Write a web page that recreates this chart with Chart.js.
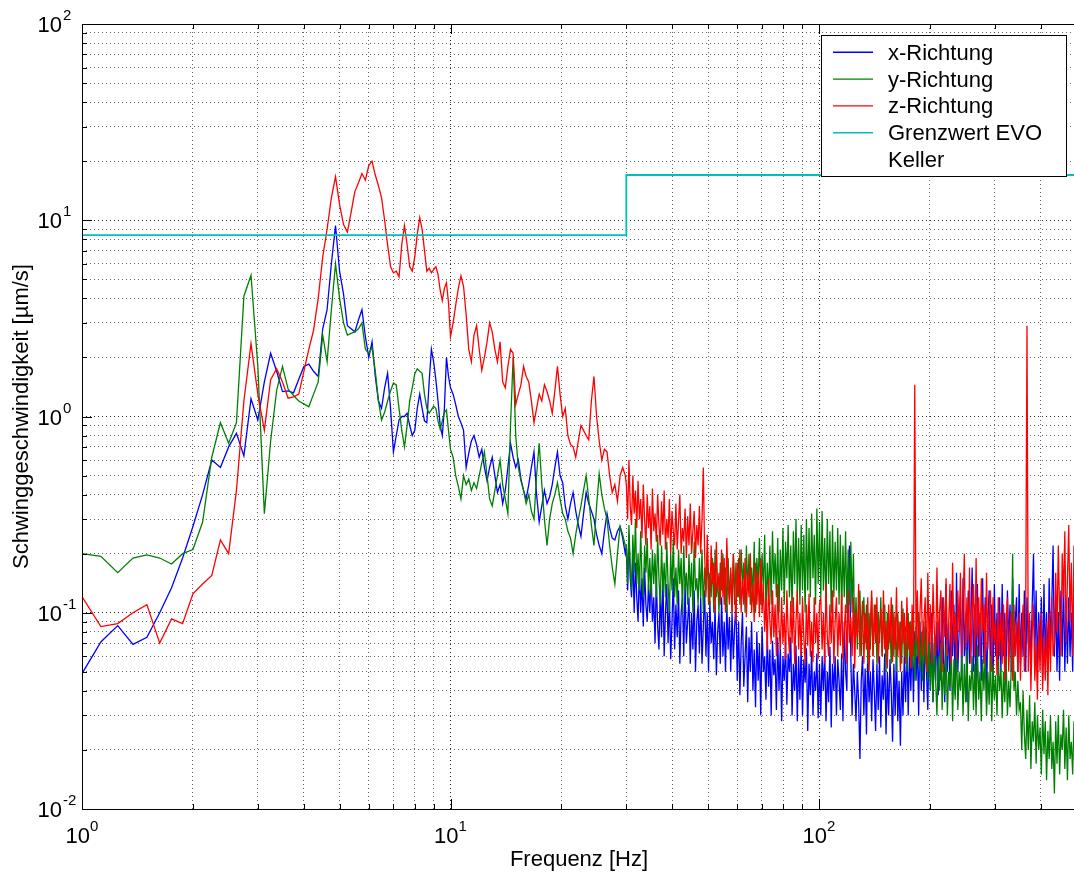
<!DOCTYPE html>
<html>
<head>
<meta charset="utf-8">
<script src="https://cdn.jsdelivr.net/npm/chart.js@4.4.1/dist/chart.umd.min.js"></script>
<style>html,body{margin:0;padding:0;background:#fff;overflow:hidden}canvas{display:block}</style>
</head>
<body>
<canvas id="c" width="1074" height="877"></canvas>
<script>
// ---------- DATA ----------
// frequency bins: 1..10 Hz at the 0.125 Hz FFT spacing, 10..30 Hz and 30..500 Hz on log-spaced display bins
const freqLow = Array.from({length: 73}, (_, k) => 1 + k * 0.125);
const freqMid = Array.from({length: 67}, (_, i) => 10 * Math.pow(50, (i + 1) / 240));
const freqDense = Array.from({length: 346}, (_, j) => 30 * Math.pow(500 / 30, j / 345));

// x-Richtung (blue)
const xLow = [0.049,0.071,0.086,0.069,0.075,0.10,0.134,0.19,0.275,0.40,
 0.60,0.55,0.70,0.82,0.63,1.23,0.96,1.5,2.1,1.7,
 1.34,1.35,1.32,1.55,1.8,1.85,1.7,1.6,2.8,3.5,
 6.0,9.4,5.5,4.2,2.9,2.8,2.7,3.1,3.5,2.55,
 2.0,2.4,1.6,1.2,1.1,1.4,1.66,1.1,0.66,0.8,
 0.96,1.0,1.0,1.04,0.9,0.8,0.85,1.1,1.3,1.1,
 0.95,0.93,1.5,2.2,1.9,1.54,1.2,0.9,0.8,1.1,
 2.0,1.6,1.4];
const xMid = [1.3,1.15,1.0,0.93,0.85,0.55,0.65,0.75,0.8,0.72,
 0.62,0.68,0.55,0.47,0.55,0.62,0.5,0.41,0.45,0.36,
 0.42,0.55,0.73,0.62,0.55,0.6,0.48,0.42,0.38,0.45,
 0.55,0.66,0.4,0.29,0.35,0.42,0.36,0.39,0.45,0.55,
 0.66,0.5,0.46,0.35,0.3,0.36,0.41,0.33,0.28,0.245,
 0.32,0.41,0.36,0.33,0.3,0.25,0.22,0.2,0.26,0.32,
 0.27,0.24,0.235,0.26,0.275,0.24,0.2];
const xDense = [0.22,0.13,0.25,0.15,0.12,0.2,0.1,0.18,0.12,0.09,0.17,
 0.1,0.15,0.085,0.17,0.11,0.09,0.14,0.1,0.16,0.09,
 0.12,0.07,0.15,0.085,0.065,0.13,0.075,0.16,0.06,0.1,0.14,0.07,0.12,0.058,0.09,0.15,
 0.065,0.11,0.075,0.13,0.055,0.1,0.12,0.06,0.14,0.07,0.09,0.12,0.055,0.1,0.065,0.13,
 0.05,0.09,0.11,0.062,0.12,0.055,0.085,0.13,0.06,0.1,0.05,0.115,0.07,0.09,0.058,0.11,
 0.048,0.08,0.1,0.055,0.12,0.06,0.09,0.05,0.11,0.065,0.095,0.05,0.1,0.058,0.085,0.11,
 0.045,0.09,0.038,0.07,0.1,0.042,0.06,0.085,0.035,0.075,0.05,0.09,0.04,0.065,0.033,0.08,
 0.045,0.07,0.03,0.085,0.05,0.06,0.036,0.078,0.042,0.065,0.03,0.072,0.048,0.058,0.032,0.075,
 0.04,0.068,0.028,0.06,0.045,0.07,0.034,0.062,0.05,0.075,0.03,0.055,0.04,0.068,0.028,0.06,
 0.036,0.07,0.03,0.058,0.044,0.066,0.025,0.055,0.038,0.064,0.03,0.05,0.04,0.062,0.029,0.055,
 0.03,0.06,0.04,0.065,0.028,0.05,0.035,0.067,0.026,0.055,0.04,0.06,0.03,0.058,0.045,0.032,
 0.062,0.028,0.09,0.05,0.04,0.16,0.22,0.06,0.03,0.055,0.04,0.028,0.05,0.035,0.018,0.045,
 0.06,0.03,0.052,0.024,0.065,0.035,0.05,0.028,0.058,0.04,0.025,0.055,0.032,0.06,0.026,0.048,
 0.036,0.062,0.024,0.05,0.03,0.058,0.04,0.022,0.055,0.03,0.065,0.028,0.045,0.021,0.05,0.03,
 0.06,0.035,0.07,0.03,0.065,0.04,0.075,
 0.035,0.08,0.045,0.07,0.03,0.09,0.04,0.075,0.035,0.085,0.05,0.032,0.08,0.04,0.1,0.035,0.07,0.045,0.09,0.038,
 0.1,0.045,0.12,0.06,0.035,0.14,0.05,0.09,0.04,0.13,0.06,0.11,0.038,0.16,0.05,0.08,
 0.12,0.045,0.15,0.06,0.1,0.035,0.13,0.055,0.09,0.17,0.05,0.11,0.04,0.14,0.06,0.1,
 0.045,0.15,0.055,0.12,0.035,0.09,0.13,0.05,0.11,0.04,0.14,0.06,0.1,0.045,
 0.12,0.05,0.14,0.06,0.1,0.045,0.13,0.07,0.11,0.05,0.15,0.06,0.09,0.12,0.05,0.14,
 0.055,0.1,0.06,0.13,0.05,0.12,0.07,0.09,0.055,0.11,0.2,0.06,0.13,0.05,0.1,0.065,
 0.12,0.045,0.14,0.06,0.1,0.05,0.15,0.07,0.11,0.22,0.06,0.12,0.05,0.1,0.045,0.13,
 0.06,0.15,0.05,0.11,0.055,0.12,0.06,0.1,0.05,0.14,0.06,0.12];

// y-Richtung (green)
const yLow = [0.20,0.194,0.16,0.19,0.197,0.19,0.177,0.20,0.21,0.29,
 0.62,0.93,0.73,0.93,4.1,5.25,1.8,0.32,0.75,1.36,
 1.8,1.38,1.28,1.2,1.16,1.12,1.3,1.5,2.6,1.9,
 3.5,6.0,4.0,3.0,2.6,2.65,2.7,2.8,3.0,2.2,
 2.1,2.25,1.7,1.2,0.96,1.05,1.2,1.35,1.48,1.45,
 1.1,0.85,0.7,0.9,1.2,1.4,1.65,1.75,1.7,1.66,
 1.3,1.1,1.04,1.08,1.13,1.1,0.95,0.86,0.95,1.05,
 1.08,0.85,0.68];
const yMid = [0.62,0.5,0.44,0.38,0.5,0.45,0.48,0.42,0.46,0.43,
 0.5,0.58,0.66,0.5,0.38,0.35,0.42,0.5,0.6,0.45,
 0.38,0.32,0.9,2.0,0.8,0.55,0.47,0.42,0.36,0.4,
 0.33,0.3,0.5,0.73,0.45,0.3,0.22,0.3,0.36,0.4,
 0.46,0.38,0.32,0.3,0.26,0.24,0.2,0.25,0.3,0.35,
 0.42,0.5,0.38,0.28,0.22,0.35,0.51,0.4,0.34,0.3,
 0.22,0.17,0.14,0.2,0.275,0.25,0.22];
const yDense = [0.22,0.14,0.28,0.17,0.13,0.25,0.16,0.3,0.14,0.2,0.13,0.26,0.15,0.12,0.22,0.16,0.24,0.13,0.19,0.12,0.21,
 0.14,0.2,0.12,0.25,0.15,0.11,0.22,0.13,0.18,0.12,0.23,0.14,0.1,0.2,0.13,0.24,
 0.12,0.17,0.11,0.21,0.14,0.19,0.1,0.22,0.13,0.16,0.11,0.2,0.12,0.18,0.1,0.23,
 0.13,0.15,0.11,0.19,0.12,0.21,0.1,0.17,0.13,0.2,0.11,0.16,0.12,0.19,0.1,0.21,
 0.12,0.15,0.1,0.18,0.13,0.2,0.11,0.17,0.1,0.19,0.12,0.16,0.1,0.2,0.11,0.18,
 0.12,0.19,0.11,0.21,0.14,0.18,0.1,0.22,0.13,0.2,0.11,0.17,0.12,0.23,0.1,0.19,
 0.14,0.24,0.11,0.2,0.13,0.25,0.1,0.18,0.12,0.22,0.11,0.26,0.14,0.2,0.12,0.24,
 0.1,0.21,0.13,0.27,0.11,0.23,0.15,0.28,0.12,0.22,0.1,0.26,0.14,0.3,0.12,0.24,
 0.11,0.28,0.13,0.25,0.1,0.3,
 0.13,0.27,0.12,0.32,0.15,0.25,0.11,0.34,0.14,0.29,0.12,0.33,0.13,0.24,0.11,0.3,
 0.14,0.26,0.1,0.28,0.12,0.23,0.13,0.27,0.11,0.25,0.1,0.22,0.12,0.26,0.1,0.21,
 0.11,0.23,0.1,0.2,
 0.07,0.12,0.065,0.1,0.13,0.06,0.09,0.12,0.07,0.11,0.055,0.1,0.065,0.12,0.06,0.09,
 0.11,0.055,0.1,0.07,0.12,0.06,0.085,0.11,0.05,0.1,0.065,0.09,0.055,0.11,0.06,0.095,
 0.05,0.1,0.065,0.09,0.055,0.105,0.06,0.085,0.05,0.1,0.06,0.09,0.052,0.095,0.045,0.085,
 0.06,0.1,0.05,0.08,0.045,0.09,0.055,0.08,0.045,0.075,
 0.04,0.065,0.035,0.075,0.045,0.03,0.06,0.04,0.07,0.032,0.055,0.038,0.068,0.03,0.05,0.042,
 0.065,0.028,0.058,0.036,0.07,0.032,0.05,0.04,0.06,0.03,0.055,0.035,0.065,0.028,0.048,0.04,
 0.06,0.032,0.055,0.03,0.068,0.036,0.05,0.028,0.058,0.04,0.062,0.03,0.05,0.034,0.06,0.028,
 0.055,0.036,0.048,0.03,0.058,0.04,0.052,0.029,0.05,0.035,0.06,0.03,0.045,0.033,0.055,0.2,
 0.04,0.05,0.03,0.045,0.032,
 0.035,0.02,0.04,0.024,0.018,0.032,0.02,0.038,0.016,0.028,0.022,0.035,0.017,0.03,0.02,0.026,
 0.015,0.032,0.019,0.028,0.014,0.025,0.018,0.03,0.016,0.022,0.012,0.028,0.017,0.03,0.015,0.024,
 0.02,0.032,0.016,0.026,0.014,0.03,0.018,0.022,0.015,0.028,0.017,0.03];

// z-Richtung (red)
const zLow = [0.121,0.085,0.088,0.10,0.11,0.07,0.093,0.088,0.125,0.14,
 0.155,0.235,0.2,0.42,1.2,2.35,1.3,0.85,1.54,1.75,
 1.5,1.24,1.26,1.3,1.7,2.2,2.75,4.0,6.5,9.0,
 13,16.7,12,9.5,8.7,11,14,15.5,17.3,16,
 19,20,17,15,13,10,7.5,5.8,5.4,5.5,
 5.15,7.5,9.4,7.5,5.8,5.5,6.5,8.5,10.3,9.0,
 7.0,5.5,5.7,5.4,5.6,5.8,5.3,4.4,3.9,4.5,
 4.8,3.8,2.55];
const zMid = [3.0,3.7,4.5,5.2,4.6,3.3,2.2,1.9,2.6,2.9,
 2.2,1.72,2.0,2.4,3.0,2.7,2.2,1.9,2.4,1.5,
 1.4,1.8,2.2,2.1,1.15,1.3,1.45,1.8,1.6,1.5,
 1.2,0.93,1.1,1.3,1.2,1.45,1.34,1.2,1.04,1.35,
 1.8,1.3,1.0,1.1,0.8,0.72,0.7,0.62,0.75,0.9,
 0.85,0.8,0.76,1.2,1.6,1.0,0.75,0.6,0.68,0.66,
 0.5,0.41,0.45,0.37,0.5,0.55,0.5];
const zDense = [0.45,0.3,0.6,0.35,0.28,0.5,0.32,0.42,0.27,0.47,0.3,
 0.38,0.24,0.45,0.3,0.22,0.4,0.27,0.35,0.21,0.43,0.26,0.32,
 0.23,0.4,0.28,0.22,0.37,0.25,0.42,0.21,0.3,0.24,0.38,0.2,
 0.33,0.26,0.22,0.36,0.21,0.29,0.4,0.2,0.27,0.23,0.34,0.19,
 0.31,0.22,0.36,0.2,0.26,0.33,0.19,0.28,0.22,0.35,0.2,0.3,
 0.55,
 0.2,0.12,0.25,0.15,0.11,0.22,0.14,0.18,0.1,0.23,0.13,0.16,0.11,0.21,0.12,
 0.19,0.1,0.24,0.14,0.11,0.17,0.1,0.2,0.13,0.09,0.18,0.12,0.21,0.1,0.15,
 0.11,0.19,0.095,0.16,0.12,0.2,0.1,0.14,0.09,0.18,0.11,0.16,0.095,0.19,0.1,
 0.14,0.08,0.12,0.065,0.15,0.09,0.07,0.13,0.075,0.11,0.06,0.14,0.085,0.065,0.12,
 0.07,0.1,0.058,0.13,0.08,0.062,0.115,0.07,0.12,0.055,0.09,0.13,0.065,0.1,0.06,
 0.12,0.075,0.055,0.11,0.068,0.125,0.06,0.09,0.056,0.12,0.07,0.1,0.058,0.11,
 0.12,0.065,0.1,0.055,0.14,0.075,0.06,0.11,0.07,0.13,0.055,0.09,0.12,0.06,0.1,0.068,
 0.125,0.058,0.08,0.11,0.055,0.13,0.07,0.095,0.06,0.12,0.052,0.1,0.075,0.14,0.06,0.085,
 0.115,0.055,0.1,0.065,0.12,0.05,0.09,0.13,0.06,0.11,0.07,0.12,0.055,0.08,0.105,0.06,
 0.13,0.065,0.09,0.052,0.11,0.07,0.12,0.056,0.1,0.065,0.135,0.06,0.09,0.05,0.115,0.07,
 0.1,0.055,0.12,0.065,0.09,0.052,0.11,0.06,
 1.45,
 0.07,0.13,0.055,0.1,0.15,0.06,0.09,0.12,0.05,0.16,0.07,0.11,0.055,0.14,0.08,0.06,
 0.17,0.065,0.1,0.13,0.05,0.12,0.075,0.15,0.06,0.09,0.14,0.055,0.18,0.07,0.1,0.058,
 0.13,0.08,0.16,0.06,0.11,0.2,0.065,0.12,0.07,0.17,0.055,0.1,0.14,0.06,0.19,0.075,
 0.12,0.06,0.15,0.08,0.11,0.055,0.16,0.065,0.1,0.13,0.05,0.12,0.07,0.09,0.048,0.12,
 0.06,0.1,0.055,0.11,0.045,0.09,0.12,0.05,0.08,0.1,0.045,0.11,0.06,0.09,0.05,0.1,
 0.045,0.08,0.11,0.05,0.09,
 2.9,
 0.05,0.1,0.04,0.08,0.11,0.045,0.07,0.036,0.09,0.05,0.1,0.04,0.075,0.045,0.09,0.038,0.1,0.05,0.12,0.06,
 0.07,0.16,0.08,0.22,0.1,0.06,0.2,0.12,0.26,0.07,0.15,0.28,0.09,0.18,0.06,0.22,0.1,0.24];

// Grenzwert EVO Keller (cyan step)
const limitFreq = [1, 30, 30, 500];
const limitVals = [8.4, 8.4, 17, 17];

// axes / ticks
const xDecades = [1, 10, 100];
const xExponents = ['0', '1', '2'];
const yDecades = [0.01, 0.1, 1, 10, 100];
const yExponents = ['-2', '-1', '0', '1', '2'];
const mantissas = [1, 2, 3, 4, 5, 6, 7, 8, 9];
const xMin = 1, xMax = 492, yMin = 0.01, yMax = 100;

const xTitle = 'Frequenz [Hz]';
const yTitle = 'Schwinggeschwindigkeit [\u00b5m/s]';
const legendLabels = [['x-Richtung'], ['y-Richtung'], ['z-Richtung'], ['Grenzwert EVO', 'Keller']];
const seriesColors = ['#0000ff', '#008000', '#ff0000', '#00bfbf'];

// ---------- BUILD ----------
const FONT = '"Liberation Sans", Arial, Helvetica, sans-serif';
function isDecade(v) { const l = Math.log10(v); return Math.abs(l - Math.round(l)) < 1e-9; }
function gridVals(decades, max) {
  const out = [];
  for (const d of decades) for (const m of mantissas) {
    const v = +(m * d).toPrecision(6);
    if (v <= max + 1e-12) out.push(v);
  }
  return out;
}
const xGridVals = gridVals(xDecades, xMax);
const yGridVals = gridVals(yDecades, yMax);

const freqAll = freqLow.concat(freqMid, freqDense);
function pts(fr, vals) { return fr.map((f, i) => ({x: f, y: vals[i]})); }

const datasets = [
  {label: 'x-Richtung', data: pts(freqAll, xLow.concat(xMid, xDense)), borderColor: seriesColors[0], order: 3},
  {label: 'y-Richtung', data: pts(freqAll, yLow.concat(yMid, yDense)), borderColor: seriesColors[1], order: 2},
  {label: 'z-Richtung', data: pts(freqAll, zLow.concat(zMid, zDense)), borderColor: seriesColors[2], order: 1},
  {label: 'Grenzwert EVO Keller', data: pts(limitFreq, limitVals), borderColor: seriesColors[3], order: 0, borderWidth: 1.8}
].map(d => Object.assign({borderWidth: 1.3, pointRadius: 0, fill: false, tension: 0}, d));

const axesPlugin = {
  id: 'matlabAxes',
  afterDatasetsDraw(chart) {
    const {ctx, chartArea: a, scales: {x, y}} = chart;
    ctx.save();
    ctx.strokeStyle = '#000';
    ctx.lineWidth = 1;
    ctx.beginPath();
    for (const v of xGridVals) {
      const px = Math.round(x.getPixelForValue(v)) + 0.5;
      const len = isDecade(v) ? 10 : 5;
      ctx.moveTo(px, a.bottom); ctx.lineTo(px, a.bottom - len);
      ctx.moveTo(px, a.top); ctx.lineTo(px, a.top + len);
    }
    for (const v of yGridVals) {
      const py = Math.round(y.getPixelForValue(v)) + 0.5;
      const len = isDecade(v) ? 10 : 5;
      ctx.moveTo(a.left, py); ctx.lineTo(a.left + len, py);
    }
    ctx.stroke();
    // frame (right side lies outside the picture)
    const t = Math.round(a.top) + 0.5, b = Math.round(a.bottom) + 0.5, l = Math.round(a.left) + 0.5;
    ctx.beginPath();
    ctx.moveTo(a.right + 2, t); ctx.lineTo(l, t); ctx.lineTo(l, b); ctx.lineTo(a.right + 2, b);
    ctx.stroke();

    // tick labels
    ctx.fillStyle = '#000';
    ctx.textBaseline = 'alphabetic';
    const big = '22px ' + FONT, small = '15px ' + FONT;
    xDecades.forEach((d, j) => {
      const px = x.getPixelForValue(d);
      ctx.font = big; const w1 = ctx.measureText('10').width;
      ctx.font = small; const w2 = ctx.measureText(xExponents[j]).width;
      const s = px - (w1 + w2) / 2, base = a.bottom + 34;
      ctx.textAlign = 'left';
      ctx.font = big; ctx.fillText('10', s, base);
      ctx.font = small; ctx.fillText(xExponents[j], s + w1, base - 12);
    });
    yDecades.forEach((d, j) => {
      const py = y.getPixelForValue(d);
      const base = py + 8;
      ctx.font = big; ctx.textAlign = 'right'; ctx.fillText('10', 62, base);
      ctx.font = small; ctx.textAlign = 'left'; ctx.fillText(yExponents[j], 63, base - 12);
    });

    // axis titles
    ctx.font = '22px ' + FONT;
    ctx.textAlign = 'center';
    ctx.textBaseline = 'middle';
    ctx.fillText(xTitle, 579, 860);
    ctx.save();
    ctx.translate(22, (a.top + a.bottom) / 2);
    ctx.rotate(-Math.PI / 2);
    ctx.fillText(yTitle, 0, 0);
    ctx.restore();
    ctx.restore();
  },
  afterDraw(chart) {
    const ctx = chart.ctx;
    ctx.save();
    const bx = 821, by = 35, bw = 245, bh = 141;
    ctx.fillStyle = '#fff';
    ctx.fillRect(bx, by, bw, bh);
    ctx.strokeStyle = '#000';
    ctx.lineWidth = 1;
    ctx.strokeRect(bx + 0.5, by + 0.5, bw, bh);
    ctx.font = '22px ' + FONT;
    ctx.textAlign = 'left';
    ctx.textBaseline = 'alphabetic';
    let row = 0;
    legendLabels.forEach((lines, i) => {
      const ry = 52.3 + 26.8 * row;
      ctx.strokeStyle = seriesColors[i];
      ctx.lineWidth = 1.4;
      ctx.beginPath(); ctx.moveTo(833, ry); ctx.lineTo(873, ry); ctx.stroke();
      ctx.fillStyle = '#000';
      lines.forEach((txt, k) => {
        ctx.fillText(txt, 888, 52.3 + 26.8 * (row + k) + 7.5);
      });
      row += lines.length;
    });
    ctx.restore();
  }
};

const gridColor = c => (c.tick && isDecade(c.tick.value)) ? 'rgba(0,0,0,0.85)' : 'rgba(0,0,0,0.6)';

new Chart(document.getElementById('c'), {
  type: 'line',
  data: {datasets},
  options: {
    responsive: false,
    animation: false,
    events: [],
    layout: {padding: {left: 82, top: 24, right: 0, bottom: 68}},
    plugins: {legend: {display: false}, tooltip: {enabled: false}},
    scales: {
      x: {
        type: 'logarithmic', position: 'bottom', min: xMin, max: xMax,
        afterBuildTicks: s => { s.ticks = xGridVals.map(v => ({value: v, major: isDecade(v)})); },
        ticks: {display: false},
        grid: {drawTicks: false, color: gridColor, lineWidth: 1},
        border: {display: false, dash: [1, 3]},
        title: {display: false}
      },
      y: {
        type: 'logarithmic', position: 'left', min: yMin, max: yMax,
        afterBuildTicks: s => { s.ticks = yGridVals.map(v => ({value: v, major: isDecade(v)})); },
        ticks: {display: false},
        grid: {drawTicks: false, color: gridColor, lineWidth: 1},
        border: {display: false, dash: [1, 3]},
        title: {display: false}
      }
    }
  },
  plugins: [axesPlugin]
});
</script>
</body>
</html>
